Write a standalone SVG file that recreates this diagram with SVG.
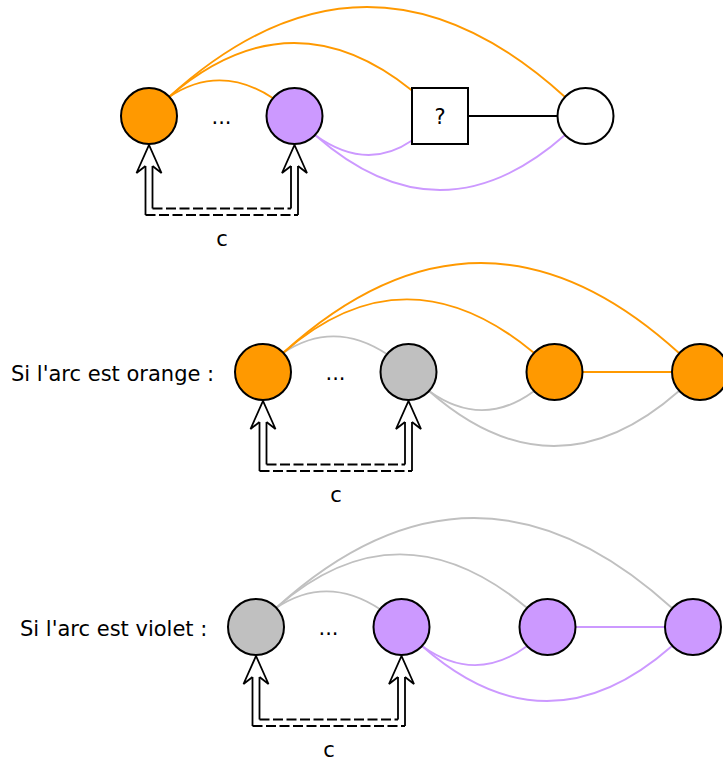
<svg xmlns="http://www.w3.org/2000/svg" width="723" height="760" viewBox="0 0 723 760">
<defs>
<style>
text { font-family: "DejaVu Sans", Verdana, sans-serif; font-size: 21px; fill: #000; }
.mid { text-anchor: middle; }
.node { stroke: #000; stroke-width: 2; }
.orange { fill: #FF9900; }
.violet { fill: #CC99FF; }
.grey { fill: #C0C0C0; }
.white { fill: #FFFFFF; }
.arc { fill: none; stroke-width: 1.9; }
.so { stroke: #FF9900; }
.sv { stroke: #CC99FF; }
.sg { stroke: #C0C0C0; }
.sb { stroke: #000; stroke-width: 2; }
.dbl { fill: none; stroke: #000; stroke-width: 1.8; }
.head { fill: #FFFFFF; stroke: #000; stroke-width: 1.8; stroke-linejoin: miter; }
.dash { stroke-dasharray: 10 3.5; }
</style>
</defs>
<rect width="723" height="760" fill="#FFFFFF"/>

<!-- Diagram 1 -->
<g id="diagram1">
  <g id="connectors1">
    <path class="arc so" d="M169,97 Q220,63 273.5,98.5"/>
    <path class="arc so" d="M169,97 Q290,-7.5 412,90.5"/>
    <path class="arc so" d="M169,97 Q367,-83 565,97"/>
    <path class="arc sv" d="M315,135 Q366,172 412,140.5"/>
    <path class="arc sv" d="M315,135 Q440,245 565,135"/>
    <path class="arc sb" d="M468,116 L557,116"/>
    <g id="brace1">
      <path class="dbl" d="M145.5,166 V215 M152.5,166 V208.5 M291,166 V208.5 M298,166 V215"/>
      <path class="dbl dash" d="M152.5,208.5 H291 M145.5,215 H298"/>
      <path class="head" d="M145.5,166 L136.5,173 L149,145 L161.5,173 L152.5,166"/>
      <path class="head" d="M291,166 L282,173 L294.5,145 L307,173 L298,166"/>
    </g>
  </g>
  <g id="d1-n1"><circle class="node orange" cx="149" cy="116" r="28"/></g>
  <g id="d1-n2"><circle class="node violet" cx="294.5" cy="116" r="28"/></g>
  <g id="d1-n3"><rect class="node white" x="412" y="88" width="56" height="56"/><text class="mid" x="440" y="124">?</text></g>
  <g id="d1-n4"><circle class="node white" cx="585.5" cy="116" r="28"/></g>
  <text class="mid" x="221.5" y="124">...</text>
  <text class="mid" x="222" y="245.5">c</text>
</g>

<!-- Diagram 2 -->
<text x="11" y="381">Si l'arc est orange :</text>
<g id="diagram2" transform="translate(114,256)">
  <g id="connectors2">
    <path class="arc sg" d="M169,97 Q220,63 273.5,98.5"/>
    <path class="arc so" d="M169,97 Q291,-10 419.5,96.5"/>
    <path class="arc so" d="M169,97 Q367,-83 565,97"/>
    <path class="arc sg" d="M315,135 Q368,173 419.5,135.5"/>
    <path class="arc sg" d="M315,135 Q440,245 565,135"/>
    <path class="arc so" d="M468,116 L557,116"/>
    <g id="brace2">
      <path class="dbl" d="M145.5,166 V215 M152.5,166 V208.5 M291,166 V208.5 M298,166 V215"/>
      <path class="dbl dash" d="M152.5,208.5 H291 M145.5,215 H298"/>
      <path class="head" d="M145.5,166 L136.5,173 L149,145 L161.5,173 L152.5,166"/>
      <path class="head" d="M291,166 L282,173 L294.5,145 L307,173 L298,166"/>
    </g>
  </g>
  <g id="d2-n1"><circle class="node orange" cx="149" cy="116" r="28"/></g>
  <g id="d2-n2"><circle class="node grey" cx="294.5" cy="116" r="28"/></g>
  <g id="d2-n3"><circle class="node orange" cx="440.5" cy="116" r="28"/></g>
  <g id="d2-n4"><circle class="node orange" cx="586" cy="116" r="28"/></g>
  <text class="mid" x="221.5" y="124">...</text>
  <text class="mid" x="222" y="245.5">c</text>
</g>

<!-- Diagram 3 -->
<text x="20" y="636">Si l'arc est violet :</text>
<g id="diagram3" transform="translate(107,511)">
  <g id="connectors3">
    <path class="arc sg" d="M169,97 Q220,63 273.5,98.5"/>
    <path class="arc sg" d="M169,97 Q291,-10 419.5,96.5"/>
    <path class="arc sg" d="M169,97 Q367,-83 565,97"/>
    <path class="arc sv" d="M315,135 Q368,173 419.5,135.5"/>
    <path class="arc sv" d="M315,135 Q440,245 565,135"/>
    <path class="arc sv" d="M468,116 L557,116"/>
    <g id="brace3">
      <path class="dbl" d="M145.5,166 V215 M152.5,166 V208.5 M291,166 V208.5 M298,166 V215"/>
      <path class="dbl dash" d="M152.5,208.5 H291 M145.5,215 H298"/>
      <path class="head" d="M145.5,166 L136.5,173 L149,145 L161.5,173 L152.5,166"/>
      <path class="head" d="M291,166 L282,173 L294.5,145 L307,173 L298,166"/>
    </g>
  </g>
  <g id="d3-n1"><circle class="node grey" cx="149" cy="116" r="28"/></g>
  <g id="d3-n2"><circle class="node violet" cx="294.5" cy="116" r="28"/></g>
  <g id="d3-n3"><circle class="node violet" cx="440.5" cy="116" r="28"/></g>
  <g id="d3-n4"><circle class="node violet" cx="586" cy="116" r="28"/></g>
  <text class="mid" x="221.5" y="124">...</text>
  <text class="mid" x="222" y="245.5">c</text>
</g>
</svg>
